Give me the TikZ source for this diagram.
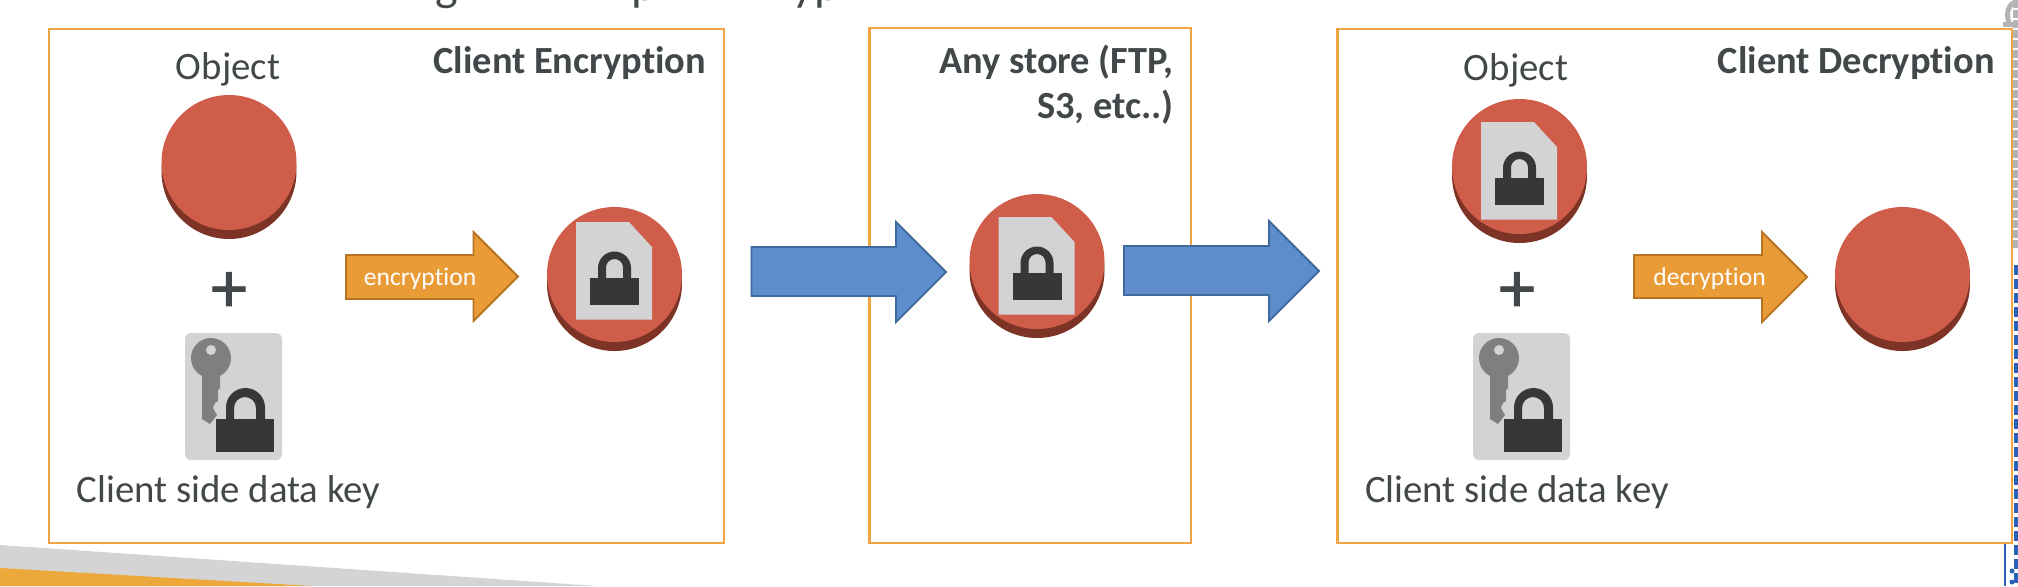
\documentclass[tikz,border=0pt]{standalone}
\usepackage{fontspec}
\setmainfont[RawFeature={-liga}]{Carlito}
\newfontfamily\plusfont[FakeBold=1.2]{Carlito}
\definecolor{ink}{HTML}{42484A}
\definecolor{frameor}{HTML}{F0A545}
\definecolor{coinface}{HTML}{D05C4A}
\definecolor{coinside}{HTML}{7D3426}
\definecolor{paper}{HTML}{D2D3D2}
\definecolor{lockd}{HTML}{373737}
\definecolor{keyg}{HTML}{7F7F7F}
\definecolor{blockb}{HTML}{5F8DCB}
\definecolor{blockbl}{HTML}{3F6A9E}
\definecolor{blocko}{HTML}{E99B36}
\definecolor{blockol}{HTML}{B67422}
\definecolor{wedgeg}{HTML}{D4D4D4}
\definecolor{wedgeo}{HTML}{ECA83A}
\definecolor{stripg}{HTML}{B4B4B4}
\definecolor{stripb}{HTML}{2A62B8}
\tikzset{
  x=0.5pt,y=-0.5pt,
  frame/.style={draw=frameor,line width=1.4pt,fill=white},
  bluearrow/.style={draw=blockbl,line width=0.9pt,fill=blockb,line join=miter},
  orangearrow/.style={draw=blockol,line width=0.9pt,fill=blocko,line join=miter},
  bodytext/.style={inner sep=0pt,text=ink,font=\fontsize{19.4}{22}\selectfont},
  headtext/.style={inner sep=0pt,text=ink,font=\fontsize{19.2}{22}\selectfont\bfseries},
  arrowtext/.style={inner sep=0pt,text=white,font=\fontsize{12.8}{14}\selectfont},
  plustext/.style={inner sep=0pt,text=ink,font=\fontsize{36}{36}\plusfont},
  toptext/.style={inner sep=0pt,text=ink,font=\fontsize{24}{28}\selectfont},
}
% coin: centre of the face at #1,#2
\newcommand{\coinicon}[2]{%
  \fill[coinside] (#1,#2+9) circle[radius=67.5];
  \fill[coinface] (#1,#2) circle[radius=67.5];
}
% padlock: cx, shackle top, half body width, body top, body bottom
\newcommand{\padlockicon}[5]{%
  \fill[lockd]
    (#1-16.5,#4) -- (#1-16.5,#2+16.5) arc[start angle=180,end angle=360,radius=16.5] -- (#1+16.5,#4) -- (#1+8.5,#4)
    -- (#1+8.5,#2+16) arc[start angle=360,end angle=180,radius=8.5] -- (#1-8.5,#4) -- cycle;
  \fill[lockd] (#1-#3,#4) rectangle (#1+#3,#5);
}
% file with padlock: coin centre x = #1, file top = #2
\newcommand{\fileicon}[2]{%
  \fill[paper] (#1-38.5,#2) -- (#1+14.5,#2) -- (#1+37.5,#2+25) -- (#1+37.5,#2+97.5) -- (#1-38.5,#2+97.5) -- cycle;
  \padlockicon{#1}{#2+29.5}{24.5}{#2+56}{#2+83}
}
% key card, origin at its top-left corner
\newcommand{\keycard}[2]{%
  \begin{scope}[shift={(#1,#2)}]
    \fill[paper,rounded corners=3pt] (0,0) rectangle (97,127);
    \fill[keyg] (26,25) circle[radius=20];
    \fill[keyg] (17,35) -- (35,35) -- (35,55) -- (33,57) -- (33,68) -- (30,70) -- (28,75) -- (32,82) -- (25,91) -- (17,86) -- cycle;
    \fill[paper] (26,17) circle[radius=5];
    \fill[lockd]
      (41,86) -- (41,74.5) arc[start angle=180,end angle=360,radius=19.5] -- (80,86) -- (71,86)
      -- (71,75) arc[start angle=360,end angle=180,radius=11] -- (49,86) -- cycle;
    \fill[lockd] (31,86) rectangle (89,119);
  \end{scope}
}
\begin{document}
\begin{tikzpicture}
\useasboundingbox (0,0) rectangle (2018,586);
\clip (0,0) rectangle (2018,586);
\fill[white] (0,0) rectangle (2018,586);
% slide remnants
\fill[wedgeg] (0,545) -- (597,586) -- (0,586) -- cycle;
\fill[wedgeo] (0,568) -- (312,586) -- (0,586) -- cycle;
\node[toptext,anchor=base] (topg) at (447,0) {g};
\node[toptext,anchor=base west] (topp) at (631,0) {p};
\node[toptext,anchor=base west] (topyp) at (792,0) {yp};
% right edge remnants
\draw[stripg,line width=2.5pt,dash pattern=on 4pt off 1pt] (2015.5,0) -- (2015.5,250);
\draw[stripg,line width=2.5pt,line cap=butt] (2003,24) -- (2018,24);
\draw[stripg,line width=2.5pt] (2009,24) .. controls (2005,10) and (2010,2) .. (2018,2);
\draw[stripb,line width=2.5pt,dash pattern=on 5pt off 2pt] (2016,265) -- (2016,586);
\draw[stripb,line width=1.2pt] (2005,543) -- (2005,586);
\fill[stripb] (2012,571) circle[radius=2.5];
\fill[stripb] (2012,582) circle[radius=2.5];
% frames
\path[frame] (49,29) rectangle (724,543);
\path[frame] (869.5,28) rectangle (1191,543);
\path[frame] (1337.5,29) rectangle (2012,543);
% first panel
\node[bodytext,anchor=base] (objA) at (228,79) {Object};
\coinicon{229}{162.5}
\node[plustext] (plusA) at (229,292) {+};
\keycard{185}{333}
\node[bodytext,anchor=base] (keyA) at (228.5,502) {Client side data key};
\node[headtext,anchor=base east] (headA) at (706.5,73) {Client Encryption};
\path[orangearrow] (346,255) -- (473.5,255) -- (473.5,232) -- (518,276.5) -- (473.5,321) -- (473.5,299) -- (346,299) -- cycle;
\node[arrowtext,anchor=base] (encl) at (420,285) {encryption};
\coinicon{614.5}{274.5}
\fileicon{614.5}{222}
% middle panel
\node[headtext,anchor=base east,align=right] (headB) at (1174,73) {Any store (FTP,};
\node[headtext,anchor=base east,align=right] (headBb) at (1174,118) {S3, etc..)};
\coinicon{1037}{261.5}
\fileicon{1037}{217}
\path[bluearrow] (751.5,247) -- (896,247) -- (896,222) -- (946,272) -- (896,322) -- (896,296) -- (751.5,296) -- cycle;
\path[bluearrow] (1124,246) -- (1269,246) -- (1269,221) -- (1319,271) -- (1269,321) -- (1269,295) -- (1124,295) -- cycle;
% third panel
\node[bodytext,anchor=base] (objC) at (1516,80) {Object};
\coinicon{1519.5}{166.5}
\fileicon{1519.5}{122}
\node[plustext] (plusC) at (1517,292) {+};
\keycard{1473}{333}
\node[bodytext,anchor=base] (keyC) at (1517,502) {Client side data key};
\node[headtext,anchor=base east] (headC) at (1995,73) {Client Decryption};
\path[orangearrow] (1634,255) -- (1762,255) -- (1762,232) -- (1807,277) -- (1762,322) -- (1762,298) -- (1634,298) -- cycle;
\node[arrowtext,anchor=base] (decl) at (1709.5,285) {decryption};
\coinicon{1902.5}{274.5}
\end{tikzpicture}
\end{document}
